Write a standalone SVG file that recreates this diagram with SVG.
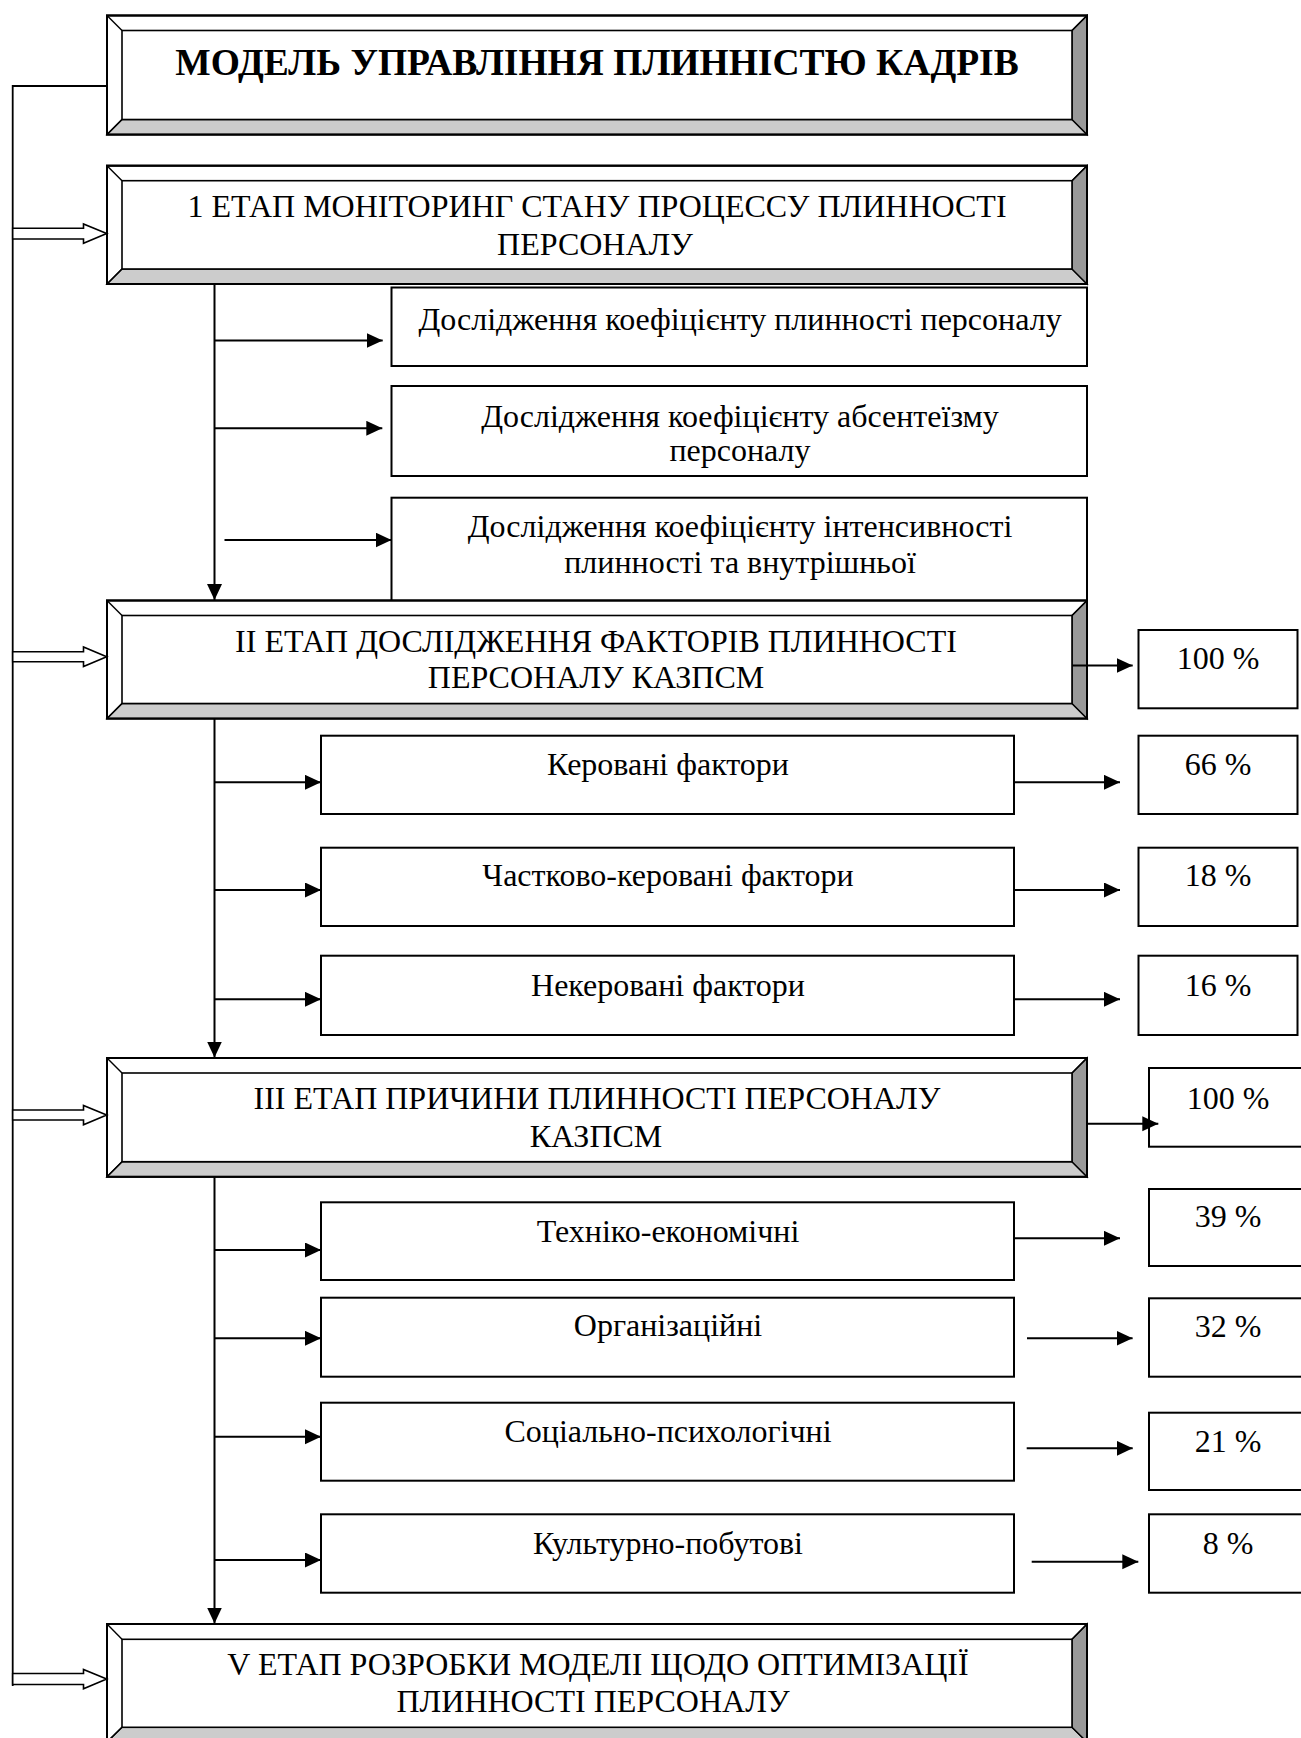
<svg xmlns="http://www.w3.org/2000/svg" width="1301" height="1738" viewBox="0 0 1301 1738">
<style>
.t{font-family:"Liberation Serif","Times New Roman",serif;font-size:32px;fill:#000;text-anchor:middle}
.tb{font-family:"Liberation Serif","Times New Roman",serif;font-size:37.5px;font-weight:bold;fill:#000;text-anchor:middle}
.box{fill:#fff;stroke:#000;stroke-width:2}
.ob{fill:none;stroke:#000;stroke-width:2}
.ib{fill:#fff;stroke:#000;stroke-width:1.6}
.bot{fill:#cccccc;stroke:#000;stroke-width:1.4}
.rgt{fill:#999999;stroke:#000;stroke-width:1.4}
.dg{stroke:#000;stroke-width:1.4}
.ln{fill:none;stroke:#000;stroke-width:1.8}
.ar{fill:none;stroke:#000;stroke-width:2;marker-end:url(#ah)}
.hol{fill:#fff;stroke:#000;stroke-width:1.6}
</style>
<defs>
<marker id="ah" markerUnits="userSpaceOnUse" markerWidth="18" markerHeight="16" refX="16" refY="7.5" orient="auto">
<path d="M0,0 L16,7.5 L0,15 Z" fill="#000"/>
</marker>
</defs>

<g id="node-sub-c">
<rect class="box" x="391.5" y="497.7" width="695.5" height="110"/>
<text class="t" x="740" y="537">Дослідження коефіцієнту інтенсивності</text>
<text class="t" x="740" y="573">плинності та внутрішньої</text>
</g>

<g id="node-title">
<rect class="box" x="107" y="15.5" width="980" height="119"/>
<polygon class="bot" points="107,134.5 1087,134.5 1072,119.5 122,119.5"/>
<polygon class="rgt" points="1087,15.5 1087,134.5 1072,119.5 1072,30.5"/>
<rect class="ib" x="122" y="30.5" width="950" height="89"/>
<line class="dg" x1="107" y1="15.5" x2="122" y2="30.5"/>
<line class="dg" x1="1087" y1="15.5" x2="1072" y2="30.5"/>
<line class="dg" x1="107" y1="134.5" x2="122" y2="119.5"/>
<rect class="ob" x="107" y="15.5" width="980" height="119"/>
<text class="tb" x="597" y="75">МОДЕЛЬ УПРАВЛІННЯ ПЛИННІСТЮ КАДРІВ</text>
</g>

<g id="node-stage1">
<rect class="box" x="107" y="165.7" width="980" height="118.3"/>
<polygon class="bot" points="107,284 1087,284 1072,269 122,269"/>
<polygon class="rgt" points="1087,165.7 1087,284 1072,269 1072,180.7"/>
<rect class="ib" x="122" y="180.7" width="950" height="88.3"/>
<line class="dg" x1="107" y1="165.7" x2="122" y2="180.7"/>
<line class="dg" x1="1087" y1="165.7" x2="1072" y2="180.7"/>
<line class="dg" x1="107" y1="284" x2="122" y2="269"/>
<rect class="ob" x="107" y="165.7" width="980" height="118.3"/>
<text class="t" x="597" y="217">1 ЕТАП МОНІТОРИНГ СТАНУ ПРОЦЕССУ ПЛИННОСТІ</text>
<text class="t" x="595" y="254.5">ПЕРСОНАЛУ</text>
</g>

<g id="node-sub-a">
<rect class="box" x="391.5" y="287.5" width="695.5" height="78.5"/>
<text class="t" x="740" y="330">Дослідження коефіцієнту плинності персоналу</text>
</g>

<g id="node-sub-b">
<rect class="box" x="391.5" y="386" width="695.5" height="90"/>
<text class="t" x="740" y="427">Дослідження коефіцієнту абсентеїзму</text>
<text class="t" x="740" y="461">персоналу</text>
</g>

<g id="node-stage2">
<rect class="box" x="107" y="600.5" width="980" height="118"/>
<polygon class="bot" points="107,718.5 1087,718.5 1072,703.5 122,703.5"/>
<polygon class="rgt" points="1087,600.5 1087,718.5 1072,703.5 1072,615.5"/>
<rect class="ib" x="122" y="615.5" width="950" height="88"/>
<line class="dg" x1="107" y1="600.5" x2="122" y2="615.5"/>
<line class="dg" x1="1087" y1="600.5" x2="1072" y2="615.5"/>
<line class="dg" x1="107" y1="718.5" x2="122" y2="703.5"/>
<rect class="ob" x="107" y="600.5" width="980" height="118"/>
<text class="t" x="596" y="652">II ЕТАП ДОСЛІДЖЕННЯ ФАКТОРІВ ПЛИННОСТІ</text>
<text class="t" x="596" y="688">ПЕРСОНАЛУ КАЗПСМ</text>
</g>

<g id="node-p100a"><rect class="box" x="1138.5" y="630" width="159" height="78.3"/><text class="t" x="1218" y="669">100 %</text></g>

<g id="node-f1"><rect class="box" x="321" y="735.7" width="693" height="78.3"/><text class="t" x="668" y="775">Керовані фактори</text></g>
<g id="node-p66"><rect class="box" x="1138.5" y="735.7" width="159" height="78.3"/><text class="t" x="1218" y="775">66 %</text></g>

<g id="node-f2"><rect class="box" x="321" y="847.7" width="693" height="78.3"/><text class="t" x="668" y="886">Частково-керовані фактори</text></g>
<g id="node-p18"><rect class="box" x="1138.5" y="847.7" width="159" height="78.3"/><text class="t" x="1218" y="886">18 %</text></g>

<g id="node-f3"><rect class="box" x="321" y="955.7" width="693" height="79.3"/><text class="t" x="668" y="996">Некеровані фактори</text></g>
<g id="node-p16"><rect class="box" x="1138.5" y="955.7" width="159" height="79.3"/><text class="t" x="1218" y="996">16 %</text></g>

<g id="node-stage3">
<rect class="box" x="107" y="1058" width="980" height="118.7"/>
<polygon class="bot" points="107,1176.7 1087,1176.7 1072,1161.7 122,1161.7"/>
<polygon class="rgt" points="1087,1058 1087,1176.7 1072,1161.7 1072,1073"/>
<rect class="ib" x="122" y="1073" width="950" height="88.7"/>
<line class="dg" x1="107" y1="1058" x2="122" y2="1073"/>
<line class="dg" x1="1087" y1="1058" x2="1072" y2="1073"/>
<line class="dg" x1="107" y1="1176.7" x2="122" y2="1161.7"/>
<rect class="ob" x="107" y="1058" width="980" height="118.7"/>
<text class="t" x="597" y="1109">III ЕТАП ПРИЧИНИ ПЛИННОСТІ ПЕРСОНАЛУ</text>
<text class="t" x="596" y="1146.5">КАЗПСМ</text>
</g>

<g id="node-p100b"><rect class="box" x="1149" y="1068" width="153" height="78.7"/><text class="t" x="1228" y="1109">100 %</text></g>

<g id="node-c1"><rect class="box" x="321" y="1202.3" width="693" height="77.7"/><text class="t" x="668" y="1242">Техніко-економічні</text></g>
<g id="node-p39"><rect class="box" x="1149" y="1189" width="153" height="77"/><text class="t" x="1228" y="1227">39 %</text></g>

<g id="node-c2"><rect class="box" x="321" y="1297.7" width="693" height="79"/><text class="t" x="668" y="1336">Організаційні</text></g>
<g id="node-p32"><rect class="box" x="1149" y="1298.3" width="153" height="78.4"/><text class="t" x="1228" y="1337">32 %</text></g>

<g id="node-c3"><rect class="box" x="321" y="1402.7" width="693" height="78"/><text class="t" x="668" y="1442">Соціально-психологічні</text></g>
<g id="node-p21"><rect class="box" x="1149" y="1412.7" width="153" height="77.3"/><text class="t" x="1228" y="1452">21 %</text></g>

<g id="node-c4"><rect class="box" x="321" y="1514.3" width="693" height="78.4"/><text class="t" x="668" y="1554">Культурно-побутові</text></g>
<g id="node-p8"><rect class="box" x="1149" y="1514.3" width="153" height="78.4"/><text class="t" x="1228" y="1554">8 %</text></g>

<g id="node-stage5">
<rect class="box" x="107" y="1624" width="980" height="118"/>
<polygon class="bot" points="107,1742 1087,1742 1072,1727.3 122,1727.3"/>
<polygon class="rgt" points="1087,1624 1087,1742 1072,1727.3 1072,1639.3"/>
<rect class="ib" x="122" y="1639.3" width="950" height="88"/>
<line class="dg" x1="107" y1="1624" x2="122" y2="1639.3"/>
<line class="dg" x1="1087" y1="1624" x2="1072" y2="1639.3"/>
<line class="dg" x1="107" y1="1742" x2="122" y2="1727.3"/>
<rect class="ob" x="107" y="1624" width="980" height="118"/>
<text class="t" x="598" y="1675">V ЕТАП РОЗРОБКИ МОДЕЛІ ЩОДО ОПТИМІЗАЦІЇ</text>
<text class="t" x="593" y="1712">ПЛИННОСТІ ПЕРСОНАЛУ</text>
</g>

<g id="connectors">
<polyline class="ln" points="107,86 12.7,86 12.7,1686"/>
<polygon class="hol" points="12.7,228.3 83.5,228.3 83.5,224 106.7,233.5 83.5,243.3 83.5,239 12.7,239"/>
<polygon class="hol" points="12.7,651.7 83.5,651.7 83.5,647 106.7,656.7 83.5,666.5 83.5,661.7 12.7,661.7"/>
<polygon class="hol" points="12.7,1110 83.5,1110 83.5,1105.5 106.7,1115 83.5,1124.7 83.5,1120 12.7,1120"/>
<polygon class="hol" points="12.7,1673.5 83.5,1673.5 83.5,1669.5 106.7,1679 83.5,1688.7 83.5,1684.5 12.7,1684.5"/>

<line class="ar" x1="214.5" y1="284" x2="214.5" y2="600"/>
<line class="ar" x1="214.5" y1="718.5" x2="214.5" y2="1057.5"/>
<line class="ar" x1="214.5" y1="1176.7" x2="214.5" y2="1623.5"/>

<line class="ar" x1="214.5" y1="340.5" x2="382.7" y2="340.5"/>
<line class="ar" x1="214.5" y1="428.3" x2="382.3" y2="428.3"/>
<line class="ar" x1="224.5" y1="540" x2="391.5" y2="540"/>

<line class="ar" x1="1072" y1="665.5" x2="1132.7" y2="665.5"/>
<line class="ar" x1="214.5" y1="782.3" x2="321" y2="782.3"/>
<line class="ar" x1="214.5" y1="890" x2="321" y2="890"/>
<line class="ar" x1="214.5" y1="999.3" x2="321" y2="999.3"/>
<line class="ar" x1="1014" y1="782.3" x2="1120" y2="782.3"/>
<line class="ar" x1="1014" y1="890" x2="1120" y2="890"/>
<line class="ar" x1="1014" y1="999.3" x2="1120" y2="999.3"/>

<line class="ar" x1="1087" y1="1123.7" x2="1158.3" y2="1123.7"/>
<line class="ar" x1="214.5" y1="1250" x2="321" y2="1250"/>
<line class="ar" x1="214.5" y1="1338.3" x2="321" y2="1338.3"/>
<line class="ar" x1="214.5" y1="1436.7" x2="321" y2="1436.7"/>
<line class="ar" x1="214.5" y1="1560" x2="321" y2="1560"/>
<line class="ar" x1="1014" y1="1238.3" x2="1120" y2="1238.3"/>
<line class="ar" x1="1027" y1="1338.3" x2="1132.6" y2="1338.3"/>
<line class="ar" x1="1026.7" y1="1448.3" x2="1132.7" y2="1448.3"/>
<line class="ar" x1="1031.7" y1="1561.7" x2="1138.3" y2="1561.7"/>
</g>
</svg>
